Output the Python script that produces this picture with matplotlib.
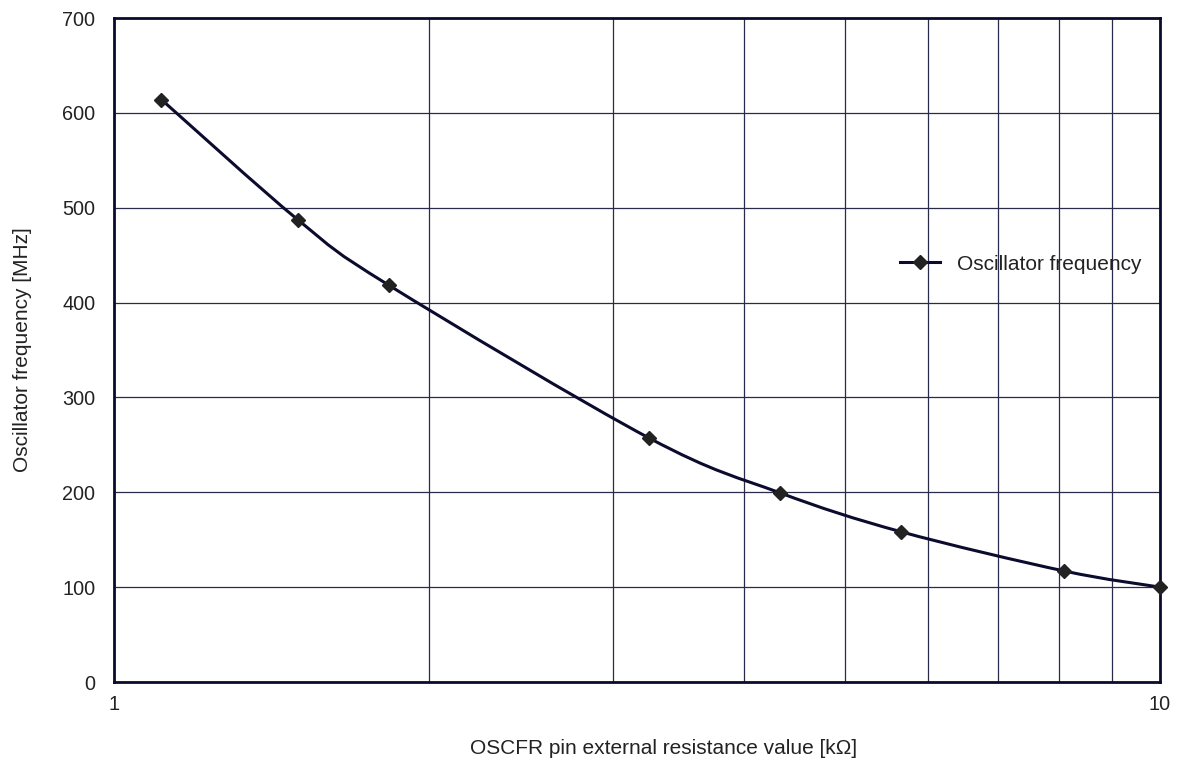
import numpy as np
import matplotlib
matplotlib.use("Agg")
import matplotlib.pyplot as plt
from matplotlib.path import Path
from matplotlib.patches import PathPatch
from matplotlib.lines import Line2D

plt.rcParams['font.family'] = ['Liberation Sans', 'DejaVu Sans']

resistance = [1.11, 1.5, 1.83, 3.25, 4.33, 5.65, 8.1, 10.0]
frequency = [614, 487, 418.5, 257, 199.5, 158.5, 117, 100]
series_label = "Oscillator frequency"
x_label = "OSCFR pin external resistance value [k\u03a9]"
y_label = "Oscillator frequency [MHz]"
y_ticks = [0, 100, 200, 300, 400, 500, 600, 700]

line_color = "#0b0b2e"
marker_color = "#222222"
grid_color = "#2a2a4a"
text_color = "#222222"

fig = plt.figure(figsize=(11.79, 7.65), dpi=100)
ax = fig.add_axes([114/1179, 1-682/765, (1160-114)/1179, (682-18)/765])
ax.set_xscale('log')
ax.set_xlim(1, 10)
ax.set_ylim(0, 700)

# smooth (Catmull-Rom style) Bezier curve through the data, in log-x space
lx = np.log10(resistance)
yy = np.array(frequency, dtype=float)
pts = np.column_stack([lx, yy])
n = len(pts)
verts = [tuple(pts[0])]
codes = [Path.MOVETO]
t = 1/6
for i in range(n-1):
    p0 = pts[i-1] if i > 0 else pts[i]
    p1 = pts[i]
    p2 = pts[i+1]
    p3 = pts[i+2] if i+2 < n else pts[i+1]
    c1 = p1 + (p2 - p0) * t
    c2 = p2 - (p3 - p1) * t
    verts += [tuple(c1), tuple(c2), tuple(p2)]
    codes += [Path.CURVE4]*3
verts = np.array(verts)
verts[:, 0] = 10**verts[:, 0]
patch = PathPatch(Path(verts, codes), facecolor='none', edgecolor=line_color,
                  lw=2.2, transform=ax.transData, zorder=3)
ax.add_patch(patch)
ax.plot(resistance, frequency, linestyle='none', marker='D', ms=7.5,
        color=marker_color, zorder=4, clip_on=False)

ax.set_yticks(y_ticks)
ax.set_xticks([1, 10])
ax.set_xticklabels(['1', '10'])
ax.set_xticks([2, 3, 4, 5, 6, 7, 8, 9], minor=True)
ax.xaxis.set_minor_formatter(plt.NullFormatter())
ax.grid(True, which='both', axis='x', color=grid_color, lw=0.9)
ax.grid(True, which='major', axis='y', color=grid_color, lw=0.9)
ax.set_axisbelow(True)
ax.tick_params(which='both', length=0, labelsize=14.3, colors=text_color)
ax.tick_params(axis='x', pad=9.5)
ax.tick_params(axis='y', pad=13.5)
for s in ax.spines.values():
    s.set_color(line_color)
    s.set_linewidth(2.0)

ax.set_xlabel(x_label, fontsize=15, color=text_color)
ax.xaxis.set_label_coords((664-114)/1046, (682-739)/664)
ax.set_ylabel(y_label, fontsize=15, color=text_color)
ax.yaxis.set_label_coords((32-114)/1046, 0.5)

handle = Line2D([], [], color=line_color, lw=2.2, marker='D', ms=7.5,
                markerfacecolor=marker_color, markeredgecolor=marker_color)
leg = ax.legend([handle], [series_label], loc='center left',
                bbox_to_anchor=((900-114)/1046, 1-(264-18)/664), frameon=False,
                fontsize=15, handlelength=1.92, handletextpad=0.8,
                borderpad=0, borderaxespad=0)
leg.get_texts()[0].set_color(text_color)

fig.savefig("out.png", dpi=100, facecolor='white')
